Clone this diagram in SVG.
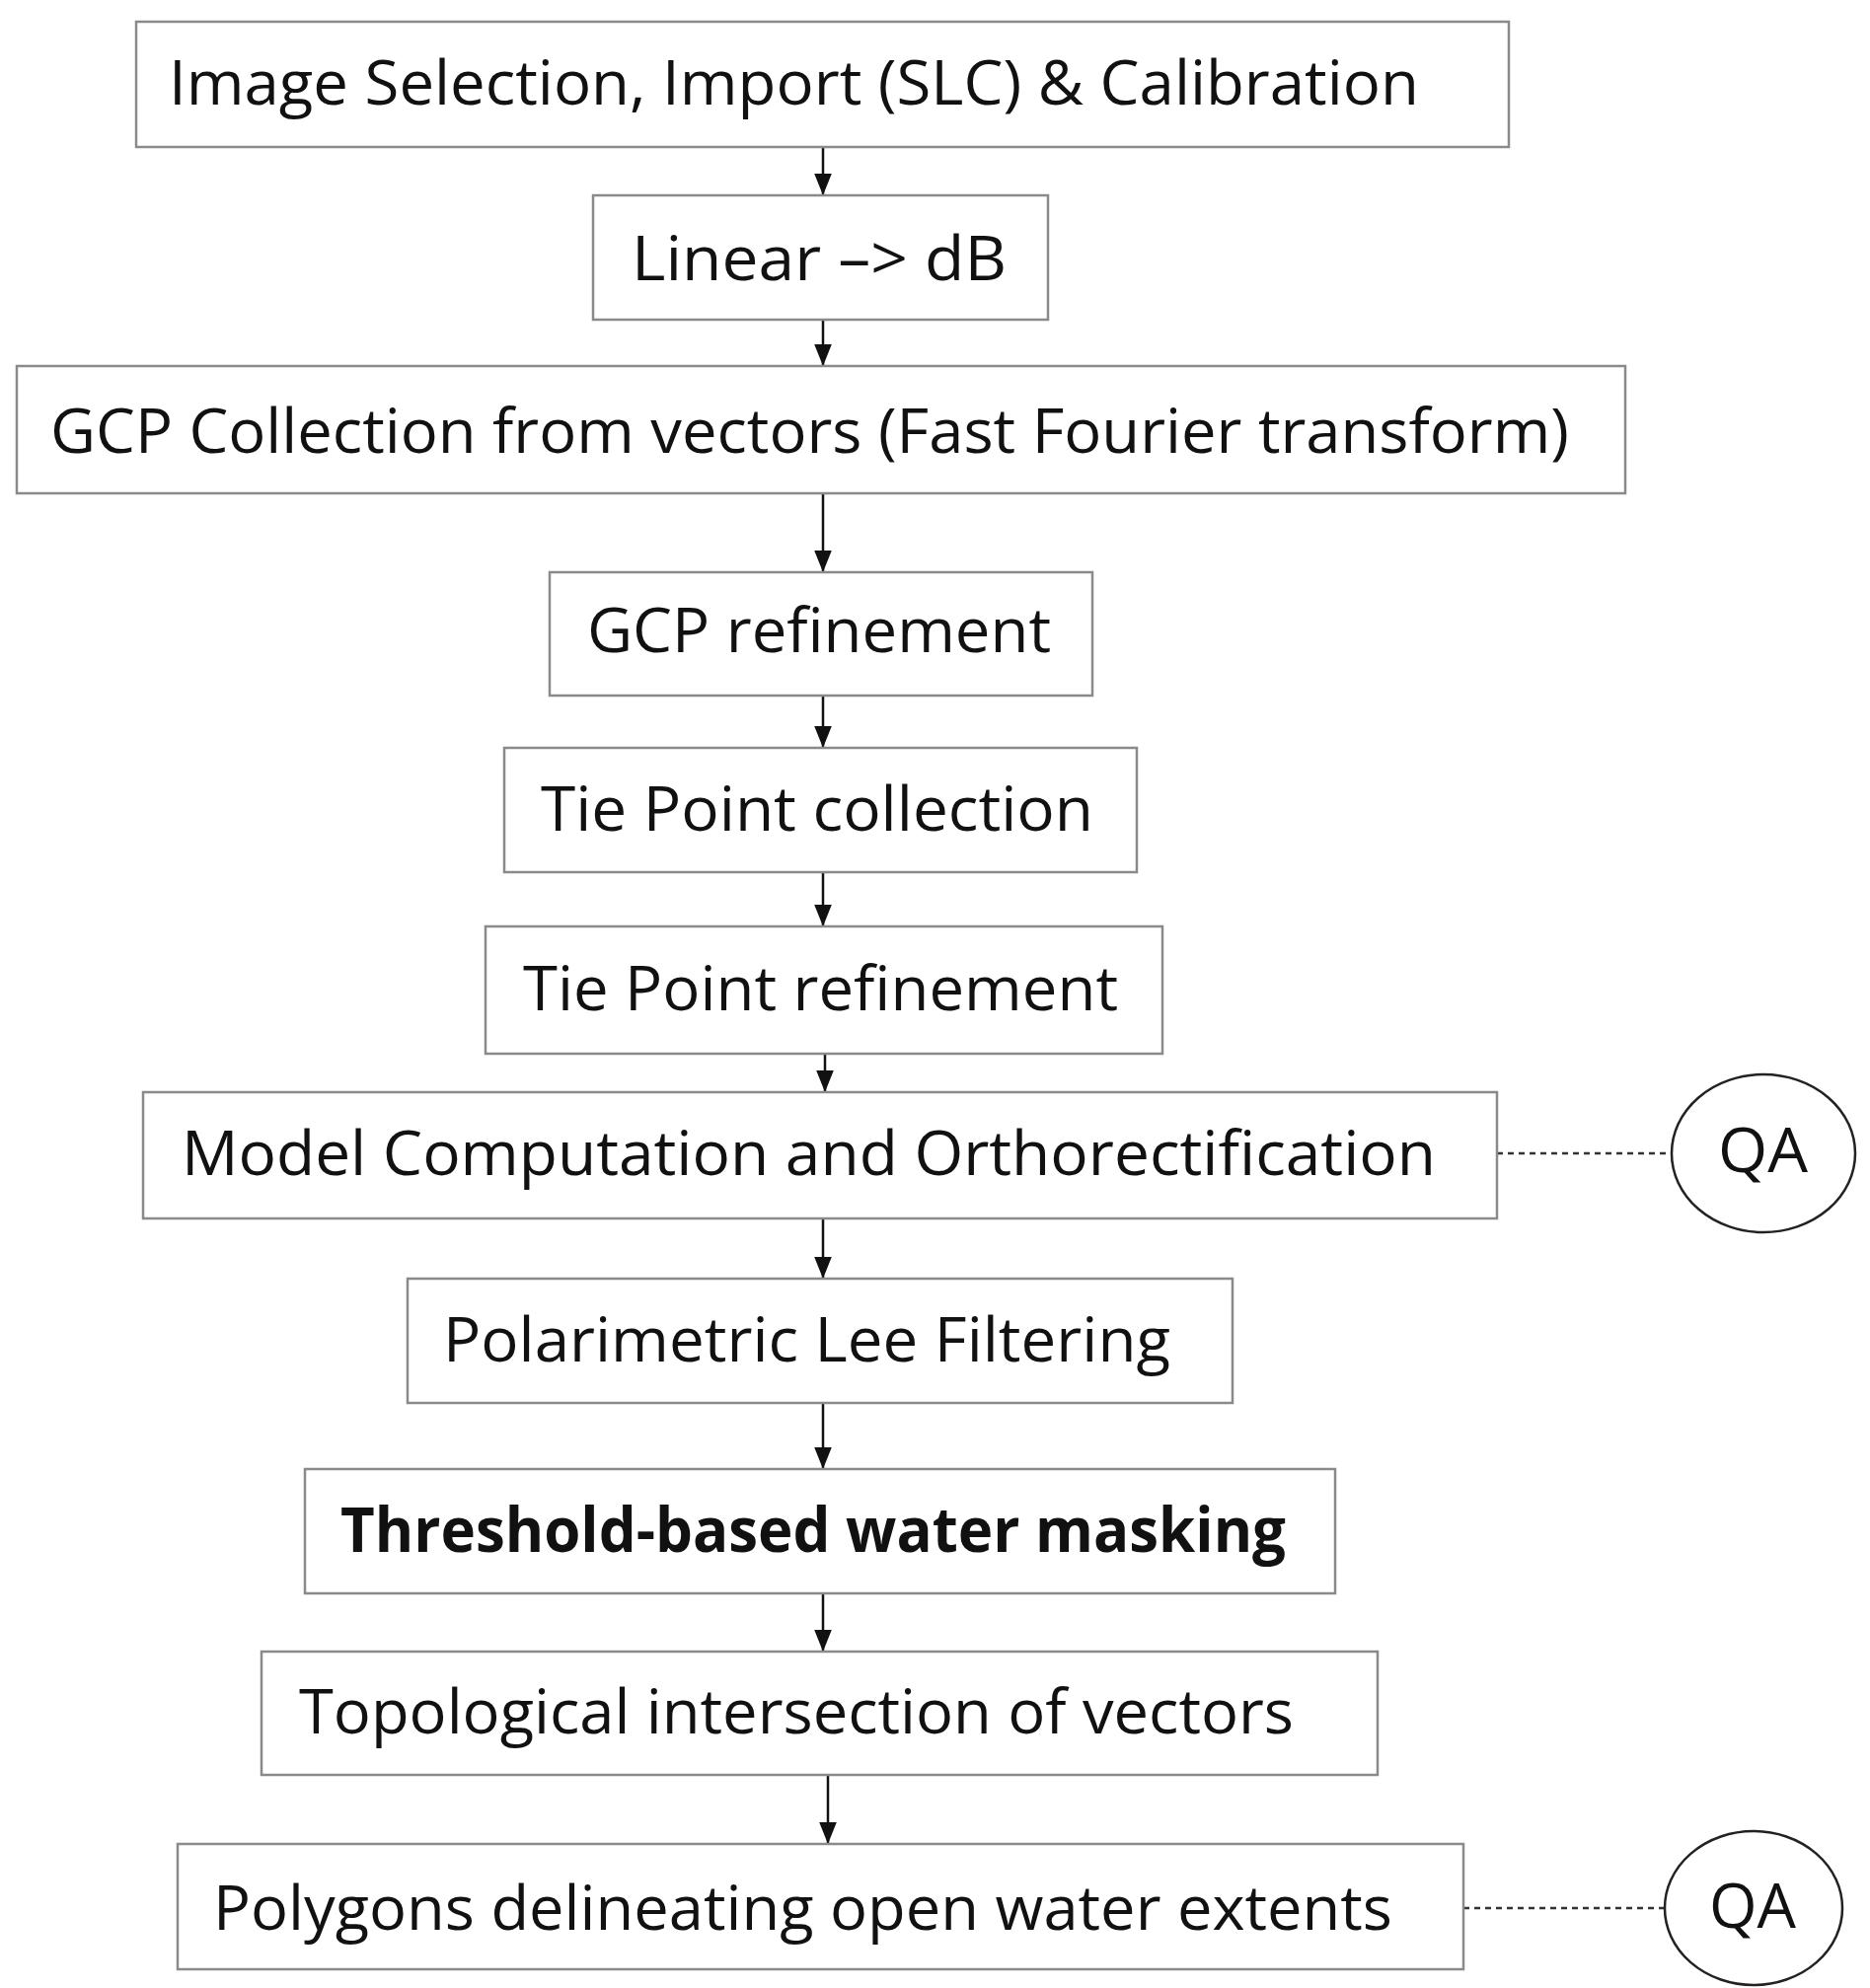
<svg xmlns="http://www.w3.org/2000/svg" width="1895" height="2015" viewBox="0 0 1895 2015">
<style>
.b{fill:#fff;stroke:#8a8a8a;stroke-width:2.5}
.t{font-family:"Open Sans","Liberation Sans",sans-serif;font-size:62px;fill:#111}
.c{stroke:#111;stroke-width:2.5;fill:none}
.d{stroke:#333;stroke-width:2.5;stroke-dasharray:6 5;fill:none}
.e{fill:#fff;stroke:#222;stroke-width:2.5}
</style>
<defs><marker id="a" viewBox="0 0 10 10" refX="10" refY="5" markerWidth="8" markerHeight="8" markerUnits="userSpaceOnUse" orient="auto"><path d="M0,0L10,5L0,10z" fill="#111"/></marker>
<marker id="ah" viewBox="0 0 10 10" refX="10" refY="5" markerWidth="22" markerHeight="22" markerUnits="userSpaceOnUse" orient="auto"><path d="M0,1L10,5L0,9z" fill="#111"/></marker></defs>
<rect width="1895" height="2015" fill="#fff"/>
<g id="connectors">
<path class="c" marker-end="url(#ah)" d="M834,149V198"/>
<path class="c" marker-end="url(#ah)" d="M834,324V371"/>
<path class="c" marker-end="url(#ah)" d="M834,500V580"/>
<path class="c" marker-end="url(#ah)" d="M834,705V758"/>
<path class="c" marker-end="url(#ah)" d="M834,884V939"/>
<path class="c" marker-end="url(#ah)" d="M836,1068V1107"/>
<path class="c" marker-end="url(#ah)" d="M834,1235V1296"/>
<path class="c" marker-end="url(#ah)" d="M834,1422V1489"/>
<path class="c" marker-end="url(#ah)" d="M834,1615V1674"/>
<path class="c" marker-end="url(#ah)" d="M839,1799V1869"/>
<path class="d" d="M1517,1169H1694"/>
<path class="d" d="M1483,1934H1687"/>
</g>
<g id="n1"><rect class="b" x="138" y="22" width="1391" height="127"/><text class="t" x="171" y="106" textLength="1267" lengthAdjust="spacingAndGlyphs">Image Selection, Import (SLC) &amp; Calibration</text></g>
<g id="n2"><rect class="b" x="601" y="198" width="461" height="126"/><text class="t" x="640" y="284" textLength="380" lengthAdjust="spacingAndGlyphs">Linear –&gt;  dB</text></g>
<g id="n3"><rect class="b" x="17" y="371" width="1630" height="129"/><text class="t" x="51" y="459" textLength="1539" lengthAdjust="spacingAndGlyphs">GCP Collection from vectors (Fast Fourier transform)</text></g>
<g id="n4"><rect class="b" x="557" y="580" width="550" height="125"/><text class="t" x="595" y="661" textLength="470" lengthAdjust="spacingAndGlyphs">GCP refinement</text></g>
<g id="n5"><rect class="b" x="511" y="758" width="641" height="126"/><text class="t" x="548" y="842" textLength="560" lengthAdjust="spacingAndGlyphs">Tie Point collection</text></g>
<g id="n6"><rect class="b" x="492" y="939" width="686" height="129"/><text class="t" x="530" y="1024" textLength="603" lengthAdjust="spacingAndGlyphs">Tie Point refinement</text></g>
<g id="n7"><rect class="b" x="145" y="1107" width="1372" height="128"/><text class="t" x="184" y="1191" textLength="1271" lengthAdjust="spacingAndGlyphs">Model Computation and Orthorectification</text></g>
<g id="n8"><rect class="b" x="413" y="1296" width="836" height="126"/><text class="t" x="449" y="1380" textLength="737" lengthAdjust="spacingAndGlyphs">Polarimetric Lee Filtering</text></g>
<g id="n9"><rect class="b" x="309" y="1489" width="1044" height="126"/><text class="t" x="345" y="1573" font-weight="bold" textLength="958" lengthAdjust="spacingAndGlyphs">Threshold-based water masking</text></g>
<g id="n10"><rect class="b" x="265" y="1674" width="1131" height="125"/><text class="t" x="303" y="1757" textLength="1008" lengthAdjust="spacingAndGlyphs">Topological intersection of vectors</text></g>
<g id="n11"><rect class="b" x="180" y="1869" width="1303" height="127"/><text class="t" x="216" y="1956" textLength="1195" lengthAdjust="spacingAndGlyphs">Polygons delineating open water extents</text></g>
<g id="qa1"><ellipse class="e" cx="1787" cy="1169" rx="93" ry="80"/><text class="t" x="1741" y="1188" textLength="91" lengthAdjust="spacingAndGlyphs">QA</text></g>
<g id="qa2"><ellipse class="e" cx="1777" cy="1934" rx="90" ry="78"/><text class="t" x="1732" y="1954" textLength="88" lengthAdjust="spacingAndGlyphs">QA</text></g>
</svg>
